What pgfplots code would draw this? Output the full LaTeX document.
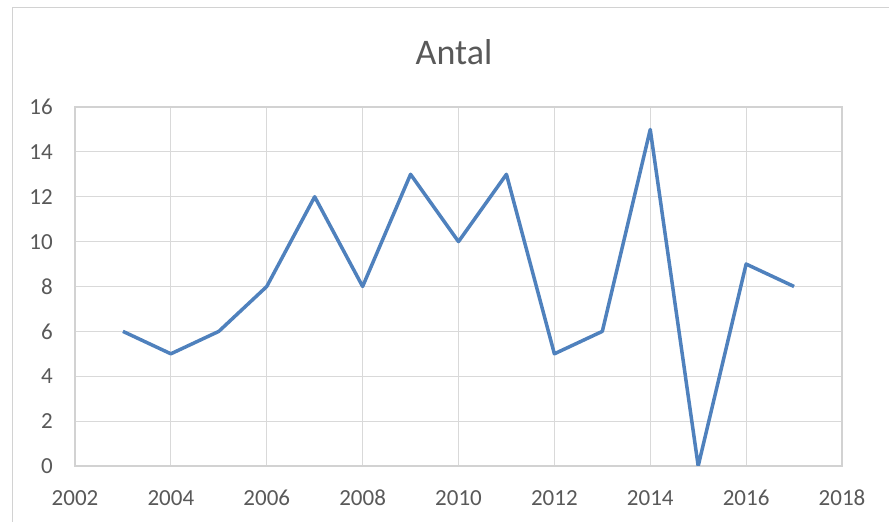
\documentclass[border=0pt]{standalone}
\usepackage{pgfplots}
\pgfplotsset{compat=1.18}
\usepackage{fontspec}
\setmainfont{Carlito}
\definecolor{txt}{RGB}{89,89,89}
\definecolor{gridc}{RGB}{217,217,217}
\definecolor{boxc}{RGB}{210,210,210}
\definecolor{line}{RGB}{79,129,189}
\begin{document}
\begin{tikzpicture}
\clip (0pt,0pt) rectangle (889pt,522pt);
\fill[white] (0pt,0pt) rectangle (889pt,522pt);
\draw[boxc,line width=1.5pt] (12.5pt,-20pt) -- (12.5pt,514.5pt) -- (920pt,514.5pt);
\node[txt,font=\fontsize{36}{40}\selectfont] at (454pt,470pt) {Antal};
\begin{axis}[
  at={(75pt,56pt)}, anchor=south west,
  scale only axis, width=767pt, height=359pt,
  xmin=2002, xmax=2018, ymin=0, ymax=16,
  xtick={2002,2004,...,2018}, ytick={0,2,...,16},
  grid=major, major grid style={gridc, line width=1.2pt},
  axis line style={boxc, line width=1.5pt},
  major tick length=0pt,
  /pgf/number format/assume math mode=true,
  /pgf/number format/1000 sep={},
  tick label style={txt, font=\fontsize{23}{27}\selectfont, inner sep=0pt},
  yticklabel style={anchor=east, xshift=-22pt},
  xticklabel style={anchor=north, yshift=-24pt},
]
\addplot[line, line width=3.5pt, line join=round, mark=none] coordinates {
(2003,6) (2004,5) (2005,6) (2006,8) (2007,12) (2008,8) (2009,13) (2010,10)
(2011,13) (2012,5) (2013,6) (2014,15) (2015,0) (2016,9) (2017,8)
};
\end{axis}
\end{tikzpicture}
\end{document}
